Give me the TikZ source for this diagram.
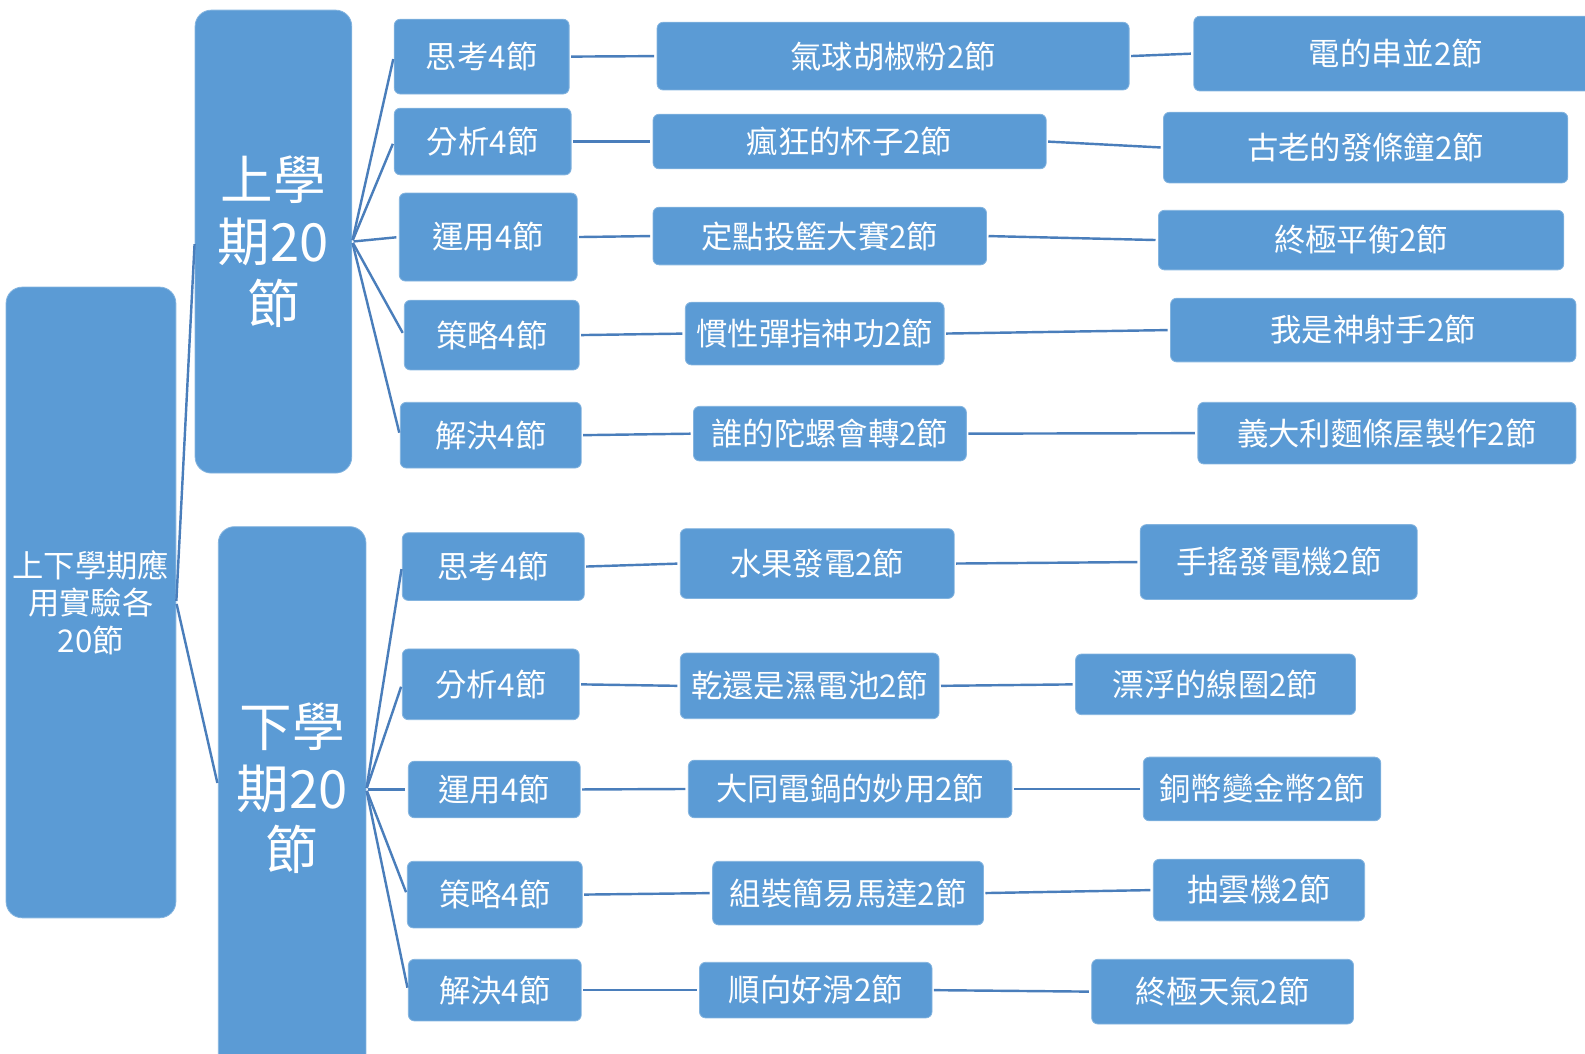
\documentclass[tikz,border=0pt]{standalone}
\usepackage{fontspec}
\setmainfont{Noto Sans CJK TC}
\usepackage{tikz}
\usepackage{xcolor}
\usetikzlibrary{positioning, arrows.meta}

\definecolor{boxblue}{HTML}{5B9BD5}
\definecolor{lineblue}{HTML}{4A7EBB}

\begin{document}
\begin{tikzpicture}[x=1pt, y=-1pt]
    % Define the styles for the boxes and the connecting lines
    \tikzstyle{box}=[rectangle, rounded corners=6pt, fill=boxblue, draw=boxblue!75!white, line width=0.8pt, text=white, font=\fontsize{31}{37}\selectfont, inner sep=0pt, align=center];
    \tikzstyle{bigbox}=[box, rounded corners=16pt, font=\fontsize{52}{61}\selectfont];
    \tikzstyle{link}=[draw=lineblue, line width=2.4pt, shorten <=1.5pt, shorten >=2.5pt];

    \useasboundingbox (0,0) rectangle (1568,1042);

    % The root and the two semesters
    \node[box, rounded corners=16pt, minimum width=168, minimum height=624] (root) at (90,596) {上下學期應\\用實驗各\\20節};
    \node[bigbox, minimum width=155, minimum height=458] (up) at (270.5,239) {上學\\期20\\節};
    \node[bigbox, minimum width=146, minimum height=540, text depth=26pt] (down) at (289,791) {下學\\期20\\節};

    % First semester: steps
    \node[box, minimum width=173, minimum height=74] (u1) at (476.5,56) {思考4節};
    \node[box, minimum width=175, minimum height=66] (u2) at (477.5,140) {分析4節};
    \node[box, minimum width=176, minimum height=87] (u3) at (483,234.5) {運用4節};
    \node[box, minimum width=173, minimum height=69] (u4) at (486.5,331.5) {策略4節};
    \node[box, minimum width=179, minimum height=65] (u5) at (485.5,430.5) {解決4節};

    % First semester: first experiments
    \node[box, minimum width=467, minimum height=67] (u1a) at (883.5,55.5) {氣球胡椒粉2節};
    \node[box, minimum width=389, minimum height=54] (u2a) at (840.5,140) {瘋狂的杯子2節};
    \node[box, minimum width=330, minimum height=57] (u3a) at (811,233.5) {定點投籃大賽2節};
    \node[box, minimum width=256, minimum height=62] (u4a) at (806,330) {慣性彈指神功2節};
    \node[box, minimum width=270, minimum height=54] (u5a) at (821,429) {誰的陀螺會轉2節};

    % First semester: second experiments
    \node[box, minimum width=400, minimum height=74] (u1b) at (1381,53) {電的串並2節};
    \node[box, minimum width=400, minimum height=70] (u2b) at (1351,146) {古老的發條鐘2節};
    \node[box, minimum width=401, minimum height=59] (u3b) at (1346.5,237.5) {終極平衡2節};
    \node[box, minimum width=401, minimum height=63] (u4b) at (1358.5,326.5) {我是神射手2節};
    \node[box, minimum width=374, minimum height=61] (u5b) at (1372,428.5) {義大利麵條屋製作2節};

    % Second semester: steps
    \node[box, minimum width=180, minimum height=67] (d1) at (488,560.5) {思考4節};
    \node[box, minimum width=175, minimum height=70] (d2) at (485.5,677) {分析4節};
    \node[box, minimum width=170, minimum height=56] (d3) at (489,781) {運用4節};
    \node[box, minimum width=173, minimum height=66] (d4) at (489.5,885) {策略4節};
    \node[box, minimum width=171, minimum height=61] (d5) at (489.5,979.5) {解決4節};

    % Second semester: first experiments
    \node[box, minimum width=271, minimum height=69] (d1a) at (808.5,557.5) {水果發電2節};
    \node[box, minimum width=256, minimum height=65] (d2a) at (801,678.5) {乾還是濕電池2節};
    \node[box, minimum width=320, minimum height=57] (d3a) at (841,780.5) {大同電鍋的妙用2節};
    \node[box, minimum width=268, minimum height=63] (d4a) at (839,883.5) {組裝簡易馬達2節};
    \node[box, minimum width=230, minimum height=55] (d5a) at (807,979.5) {順向好滑2節};

    % Second semester: second experiments
    \node[box, minimum width=274, minimum height=74] (d1b) at (1265,556) {手搖發電機2節};
    \node[box, minimum width=277, minimum height=60] (d2b) at (1202.5,677) {漂浮的線圈2節};
    \node[box, minimum width=235, minimum height=63] (d3b) at (1248.5,780.5) {銅幣變金幣2節};
    \node[box, minimum width=209, minimum height=61] (d4b) at (1245.5,880.5) {抽雲機2節};
    \node[box, minimum width=259, minimum height=64] (d5b) at (1209.5,981) {終極天氣2節};

    % Root to the semesters
    \draw[link] (root.east) -- (up.west);
    \draw[link] (root.east) -- ([yshift=14pt]down.west);

    % Semesters to the steps
    \draw[link] (up.east) -- (u1.west);
    \draw[link] (up.east) -- (u2.west);
    \draw[link] (up.east) -- (u3.west);
    \draw[link] (up.east) -- (u4.west);
    \draw[link] (up.east) -- (u5.west);
    \draw[link] ([yshift=10pt]down.east) -- (d1.west);
    \draw[link] ([yshift=10pt]down.east) -- (d2.west);
    \draw[link] ([yshift=10pt]down.east) -- (d3.west);
    \draw[link] ([yshift=10pt]down.east) -- (d4.west);
    \draw[link] ([yshift=10pt]down.east) -- (d5.west);

    % Steps to the experiments
    \draw[link] (u1.east) -- (u1a.west);  \draw[link] (u1a.east) -- (u1b.west);
    \draw[link] (u2.east) -- (u2a.west);  \draw[link] (u2a.east) -- (u2b.west);
    \draw[link] (u3.east) -- (u3a.west);  \draw[link] (u3a.east) -- (u3b.west);
    \draw[link] (u4.east) -- (u4a.west);  \draw[link] (u4a.east) -- (u4b.west);
    \draw[link] (u5.east) -- (u5a.west);  \draw[link] (u5a.east) -- (u5b.west);
    \draw[link] (d1.east) -- (d1a.west);  \draw[link] (d1a.east) -- (d1b.west);
    \draw[link] (d2.east) -- (d2a.west);  \draw[link] (d2a.east) -- (d2b.west);
    \draw[link] (d3.east) -- (d3a.west);  \draw[link] (d3a.east) -- (d3b.west);
    \draw[link] (d4.east) -- (d4a.west);  \draw[link] (d4a.east) -- (d4b.west);
    \draw[link] (d5.east) -- (d5a.west);  \draw[link] (d5a.east) -- (d5b.west);
\end{tikzpicture}
\end{document}
